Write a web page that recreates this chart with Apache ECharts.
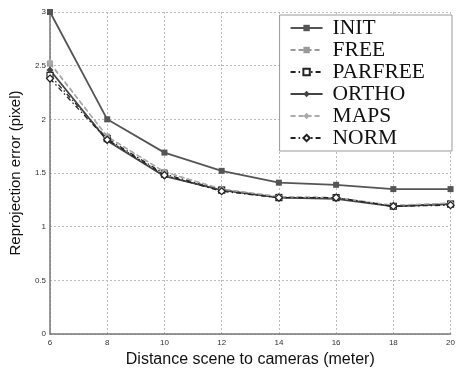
<!DOCTYPE html>
<html>
<head>
<meta charset="utf-8">
<script src="https://cdn.jsdelivr.net/npm/echarts@6/dist/echarts.min.js"></script>
<style>
  html, body { margin: 0; padding: 0; background: #fff; }
  #chart { width: 458px; height: 373px; }
</style>
</head>
<body>
<div id="chart"></div>
<script>
// Camera-to-scene distance (meter)
const distances = [6, 8, 10, 12, 14, 16, 18, 20];

// Reprojection error (pixel) per calibration method
const initErr    = [3.00, 2.00, 1.69, 1.52, 1.41, 1.39, 1.35, 1.35];
const freeErr    = [2.52, 1.84, 1.51, 1.35, 1.28, 1.27, 1.19, 1.22];
const parfreeErr = [2.41, 1.82, 1.49, 1.34, 1.27, 1.27, 1.19, 1.21];
const orthoErr   = [2.46, 1.80, 1.47, 1.34, 1.27, 1.26, 1.19, 1.21];
const mapsErr    = [2.53, 1.84, 1.51, 1.35, 1.28, 1.27, 1.20, 1.22];
const normErr    = [2.38, 1.81, 1.48, 1.33, 1.27, 1.27, 1.19, 1.20];

const methodNames = ['INIT', 'FREE', 'PARFREE', 'ORTHO', 'MAPS', 'NORM'];

const pair = vals => distances.map((d, i) => [d, vals[i]]);

function lineSeries(name, vals, color, lineType, symbol, hollow, width) {
  return {
    name: name,
    type: 'line',
    data: pair(vals),
    symbol: symbol,
    symbolSize: symbol === 'diamond' ? 7 : 6,
    showSymbol: true,
    lineStyle: { color: color, width: width, type: lineType },
    itemStyle: {
      color: hollow ? '#fff' : color,
      borderColor: color,
      borderWidth: hollow ? 1.2 : 0
    },
    emphasis: { disabled: true },
    animation: false
  };
}

const dashDot = [5, 3, 1.5, 3];

const chart = echarts.init(document.getElementById('chart'));
chart.setOption({
  backgroundColor: '#fff',
  grid: { left: 43, right: 2, top: 12, bottom: 37 },
  legend: {
    data: methodNames,
    orient: 'vertical',
    right: 6,
    top: 15,
    padding: [2, 27, 2, 10],
    itemGap: 0,
    itemWidth: 32,
    itemHeight: 8,
    borderColor: '#999',
    borderWidth: 1,
    backgroundColor: '#fff',
    textStyle: {
      fontFamily: 'Liberation Serif, DejaVu Serif, serif',
      fontSize: 21.5,
      lineHeight: 20.4,
      color: '#111',
      padding: [0, 0, 0, 5]
    }
  },
  xAxis: {
    type: 'value',
    min: 6, max: 20, interval: 2,
    name: 'Distance scene to cameras (meter)',
    nameLocation: 'middle',
    nameGap: 18,
    nameTextStyle: { fontFamily: 'Liberation Sans, Arial, sans-serif', fontSize: 16, color: '#111' },
    axisLine: { lineStyle: { color: '#777', width: 1.5 } },
    axisTick: { show: false },
    axisLabel: { fontSize: 8, color: '#333', margin: 5, fontFamily: 'Liberation Sans, Arial, sans-serif' },
    splitLine: { show: true, lineStyle: { color: '#bbb', type: [2, 2] } }
  },
  yAxis: {
    type: 'value',
    min: 0, max: 3, interval: 0.5,
    name: 'Reprojection error (pixel)',
    nameLocation: 'middle',
    nameGap: 27,
    nameTextStyle: { fontFamily: 'Liberation Sans, Arial, sans-serif', fontSize: 15, color: '#111' },
    axisLine: { show: true, lineStyle: { color: '#777', width: 1.5 } },
    axisTick: { show: false },
    axisLabel: { fontSize: 8, color: '#333', margin: 4, fontFamily: 'Liberation Sans, Arial, sans-serif' },
    splitLine: { show: true, lineStyle: { color: '#bbb', type: [2, 2] } }
  },
  series: [
    lineSeries('INIT', initErr, '#555', 'solid', 'rect', false, 1.8),
    lineSeries('FREE', freeErr, '#999', [5, 3], 'rect', false, 1.3),
    lineSeries('PARFREE', parfreeErr, '#222', dashDot, 'rect', true, 1.3),
    lineSeries('ORTHO', orthoErr, '#444', 'solid', 'diamond', false, 1.8),
    lineSeries('MAPS', mapsErr, '#aaa', [5, 3], 'diamond', false, 1.3),
    lineSeries('NORM', normErr, '#222', dashDot, 'diamond', true, 1.3)
  ]
});
</script>
</body>
</html>
